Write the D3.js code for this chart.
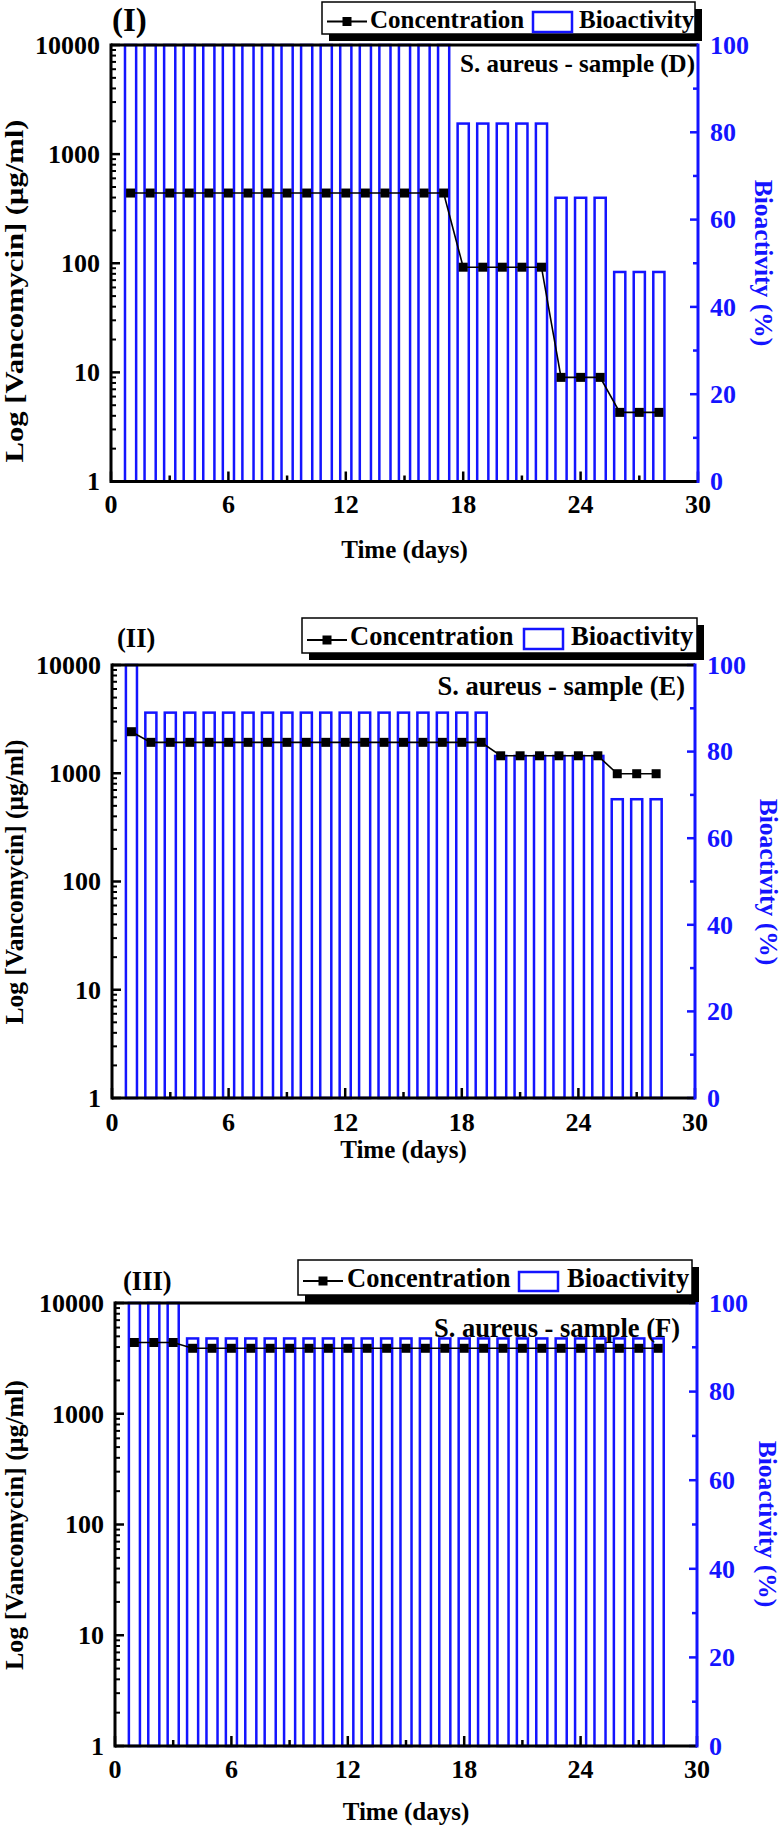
<!DOCTYPE html>
<html>
<head>
<meta charset="utf-8">
<script src="https://cdn.jsdelivr.net/npm/d3@7"></script>
<style>
  html, body { margin: 0; padding: 0; background: #fff; }
  svg { display: block; }
  text { font-family: "Liberation Serif", "Times New Roman", serif; font-weight: bold; }
</style>
</head>
<body>
<svg id="chart" width="781" height="1830"></svg>
<script>
// ---------------- DATA ----------------
const days = [1,2,3,4,5,6,7,8,9,10,11,12,13,14,15,16,17,18,19,20,21,22,23,24,25,26,27,28];

// Panel (I) – sample D
const concD = [440,440,440,440,440,440,440,440,440,440,440,440,440,440,440,440,440,
               92,92,92,92,92, 9,9,9, 4.3,4.3,4.3];
const bioD  = [100,100,100,100,100,100,100,100,100,100,100,100,100,100,100,100,100,
               82,82,82,82,82, 65,65,65, 48,48,48];

// Panel (II) – sample E
const concE = [2420, 1930,1930,1930,1930,1930,1930,1930,1930,1930,1930,1930,1930,1930,1930,1930,1930,1930,1930,
               1450,1450,1450,1450,1450,1450, 990,990,990];
const bioE  = [100, 89,89,89,89,89,89,89,89,89,89,89,89,89,89,89,89,89,89,
               79,79,79,79,79,79, 69,69,69];

// Panel (III) – sample F
const concF = [4400,4400,4400, 3900,3900,3900,3900,3900,3900,3900,3900,3900,3900,3900,3900,3900,3900,
               3900,3900,3900,3900,3900,3900,3900,3900,3900,3900,3900];
const bioF  = [100,100,100, 92,92,92,92,92,92,92,92,92,92,92,92,92,92,
               92,92,92,92,92,92,92,92,92,92,92];

const xTicks = [0, 6, 12, 18, 24, 30];
const xMinorTicks = [3, 9, 15, 21, 27];
const logTicks = [1, 10, 100, 1000, 10000];
const bioTicks = [0, 20, 40, 60, 80, 100];
const bioMinorTicks = [10, 30, 50, 70, 90];

const panelTitles = ["(I)", "(II)", "(III)"];
const sampleLabels = ["S. aureus - sample (D)", "S. aureus - sample (E)", "S. aureus - sample (F)"];
const legendLabels = ["Concentration", "Bioactivity"];
const xTitle = "Time (days)";
const yLeftTitle = "Log [Vancomycin] (\u03bcg/ml)";
const yRightTitle = "Bioactivity (%)";

// ---------------- LAYOUT ----------------
const BLUE = "#1414ff";
const layouts = [
  { conc: concD, bio: bioD, left: 111, right: 698, top: 45, bottom: 481.5,
    title: { x: 112, y: 31, size: 33 },
    sample: { x: 695, y: 72, size: 25 },
    legend: { x: 322, y: 2, w: 373, h: 32, size: 25, lineY: 21.5, concX: 370, rectX: 533, rectY: 12, rectW: 39, rectH: 20, bioX: 579, textY: 28 },
    yl: { cy: 291, len: 343 }, yr: { cx: 763, cy: 263 }, xt: { y: 558 }, tl: 31.5 },
  { conc: concE, bio: bioE, left: 112, right: 695, top: 665, bottom: 1098,
    title: { x: 117, y: 647, size: 26.5 },
    sample: { x: 685, y: 695, size: 26.5 },
    legend: { x: 302, y: 618, w: 395, h: 35, size: 26.5, lineY: 640, concX: 350, rectX: 524, rectY: 629, rectW: 39, rectH: 20, bioX: 571, textY: 645 },
    yl: { cy: 882, len: 285 }, yr: { cx: 768, cy: 882 }, xt: { y: 1158 }, tl: 33 },
  { conc: concF, bio: bioF, left: 115, right: 697, top: 1303, bottom: 1746,
    title: { x: 123, y: 1290, size: 26.5 },
    sample: { x: 680, y: 1337, size: 26.5 },
    legend: { x: 298, y: 1260, w: 394, h: 35, size: 26.5, lineY: 1281, concX: 347, rectX: 519, rectY: 1272, rectW: 39, rectH: 19, bioX: 567, textY: 1287 },
    yl: { cy: 1525, len: 290 }, yr: { cx: 767, cy: 1524 }, xt: { y: 1820 }, tl: 32 }
];

const svg = d3.select("#chart");
svg.append("rect").attr("width", 781).attr("height", 1830).attr("fill", "#fff");

function drawPanel(L, i) {
  const g = svg.append("g");
  const x = d3.scaleLinear().domain([0, 30]).range([L.left, L.right]);
  const yL = d3.scaleLog().domain([1, 10000]).range([L.bottom, L.top]);
  const yR = d3.scaleLinear().domain([0, 100]).range([L.bottom, L.top]);
  const bw = 0.57;

  // Bars (bioactivity)
  g.append("g").selectAll("rect").data(days).join("rect")
    .attr("x", d => x(d - bw / 2))
    .attr("y", (d, j) => yR(L.bio[j]))
    .attr("width", x(bw) - x(0))
    .attr("height", (d, j) => yR(0) - yR(L.bio[j]))
    .attr("fill", "none")
    .attr("stroke", BLUE)
    .attr("stroke-width", 2.5);

  // Concentration line
  const line = d3.line().x(d => x(d.day)).y(d => yL(d.v));
  const pts = days.map((d, j) => ({ day: d, v: L.conc[j] }));
  g.append("path").attr("d", line(pts)).attr("fill", "none")
    .attr("stroke", "#000").attr("stroke-width", 1.6);
  g.append("g").selectAll("rect").data(pts).join("rect")
    .attr("x", d => x(d.day) - 4.5).attr("y", d => yL(d.v) - 4.5)
    .attr("width", 9).attr("height", 9).attr("fill", "#000");

  // Left log axis ticks (inward)
  const minorLog = [];
  for (let dec = 1; dec < 10000; dec *= 10)
    for (let m = 2; m <= 9; m++) minorLog.push(dec * m);
  g.append("g").selectAll("line").data(minorLog).join("line")
    .attr("x1", L.left).attr("x2", L.left + 5)
    .attr("y1", d => yL(d)).attr("y2", d => yL(d))
    .attr("stroke", "#000").attr("stroke-width", 2);
  g.append("g").selectAll("line").data(logTicks).join("line")
    .attr("x1", L.left).attr("x2", L.left + 9)
    .attr("y1", d => yL(d)).attr("y2", d => yL(d))
    .attr("stroke", "#000").attr("stroke-width", 2.5);
  g.append("g").selectAll("text").data(logTicks).join("text")
    .attr("x", L.left - 11).attr("y", d => yL(d))
    .attr("dy", "0.34em").attr("text-anchor", "end")
    .attr("font-size", 26).attr("fill", "#000")
    .text(d => String(d));

  // Bottom axis ticks (inward)
  g.append("g").selectAll("line").data(xMinorTicks).join("line")
    .attr("x1", d => x(d)).attr("x2", d => x(d))
    .attr("y1", L.bottom).attr("y2", L.bottom - 6)
    .attr("stroke", "#000").attr("stroke-width", 2.5);
  g.append("g").selectAll("line").data(xTicks).join("line")
    .attr("x1", d => x(d)).attr("x2", d => x(d))
    .attr("y1", L.bottom).attr("y2", L.bottom - 10)
    .attr("stroke", "#000").attr("stroke-width", 2.5);
  g.append("g").selectAll("text").data(xTicks).join("text")
    .attr("x", d => x(d)).attr("y", L.bottom + L.tl)
    .attr("text-anchor", "middle").attr("font-size", 26).attr("fill", "#000")
    .text(d => String(d));

  // Right axis ticks (inward, blue)
  g.append("g").selectAll("line").data(bioMinorTicks).join("line")
    .attr("x1", L.right).attr("x2", L.right - 5)
    .attr("y1", d => yR(d)).attr("y2", d => yR(d))
    .attr("stroke", BLUE).attr("stroke-width", 2.5);
  g.append("g").selectAll("line").data(bioTicks).join("line")
    .attr("x1", L.right).attr("x2", L.right - 8)
    .attr("y1", d => yR(d)).attr("y2", d => yR(d))
    .attr("stroke", BLUE).attr("stroke-width", 2.5);
  g.append("g").selectAll("text").data(bioTicks).join("text")
    .attr("x", L.right + 12).attr("y", d => yR(d))
    .attr("dy", "0.34em").attr("text-anchor", "start")
    .attr("font-size", 26).attr("fill", BLUE)
    .text(d => String(d));

  // Frame lines
  g.append("line").attr("x1", L.left).attr("x2", L.right).attr("y1", L.top).attr("y2", L.top)
    .attr("stroke", "#000").attr("stroke-width", 3);
  g.append("line").attr("x1", L.left).attr("x2", L.right).attr("y1", L.bottom).attr("y2", L.bottom)
    .attr("stroke", "#000").attr("stroke-width", 3);
  g.append("line").attr("x1", L.left).attr("x2", L.left).attr("y1", L.top - 1.5).attr("y2", L.bottom + 1.5)
    .attr("stroke", "#000").attr("stroke-width", 3);
  g.append("line").attr("x1", L.right).attr("x2", L.right).attr("y1", L.top - 1.5).attr("y2", L.bottom + 1.5)
    .attr("stroke", BLUE).attr("stroke-width", 3);

  // Axis titles
  g.append("text").attr("x", (L.left + L.right) / 2).attr("y", L.xt.y)
    .attr("text-anchor", "middle").attr("font-size", 25).attr("fill", "#000")
    .text(xTitle);
  g.append("text")
    .attr("transform", `translate(14,${L.yl.cy}) rotate(-90)`)
    .attr("text-anchor", "middle").attr("dominant-baseline", "central")
    .attr("font-size", 25).attr("fill", "#000")
    .attr("textLength", L.yl.len).attr("lengthAdjust", "spacingAndGlyphs")
    .text(yLeftTitle);
  g.append("text")
    .attr("transform", `translate(${L.yr.cx},${L.yr.cy}) rotate(90)`)
    .attr("text-anchor", "middle").attr("dominant-baseline", "central")
    .attr("font-size", 25.5).attr("fill", BLUE)
    .text(yRightTitle);

  // Panel title and sample label
  g.append("text").attr("x", L.title.x).attr("y", L.title.y)
    .attr("font-size", L.title.size).attr("fill", "#000").text(panelTitles[i]);
  g.append("text").attr("x", L.sample.x).attr("y", L.sample.y)
    .attr("text-anchor", "end").attr("font-size", L.sample.size).attr("fill", "#000")
    .text(sampleLabels[i]);

  // Legend
  const lg = L.legend;
  g.append("rect").attr("x", lg.x + 7).attr("y", lg.y + 7).attr("width", lg.w).attr("height", lg.h)
    .attr("fill", "#000");
  g.append("rect").attr("x", lg.x).attr("y", lg.y).attr("width", lg.w).attr("height", lg.h)
    .attr("fill", "#fff").attr("stroke", "#000").attr("stroke-width", 1.5);
  g.append("line").attr("x1", lg.x + 5).attr("x2", lg.x + 45).attr("y1", lg.lineY).attr("y2", lg.lineY)
    .attr("stroke", "#000").attr("stroke-width", 2);
  g.append("rect").attr("x", lg.x + 25 - 4.5).attr("y", lg.lineY - 4.5).attr("width", 9).attr("height", 9)
    .attr("fill", "#000");
  g.append("text").attr("x", lg.concX).attr("y", lg.textY).attr("font-size", lg.size).attr("fill", "#000")
    .text(legendLabels[0]);
  g.append("rect").attr("x", lg.rectX).attr("y", lg.rectY).attr("width", lg.rectW).attr("height", lg.rectH)
    .attr("fill", "none").attr("stroke", BLUE).attr("stroke-width", 2.5);
  g.append("text").attr("x", lg.bioX).attr("y", lg.textY).attr("font-size", lg.size).attr("fill", "#000")
    .text(legendLabels[1]);
}

layouts.forEach(drawPanel);
</script>
</body>
</html>
